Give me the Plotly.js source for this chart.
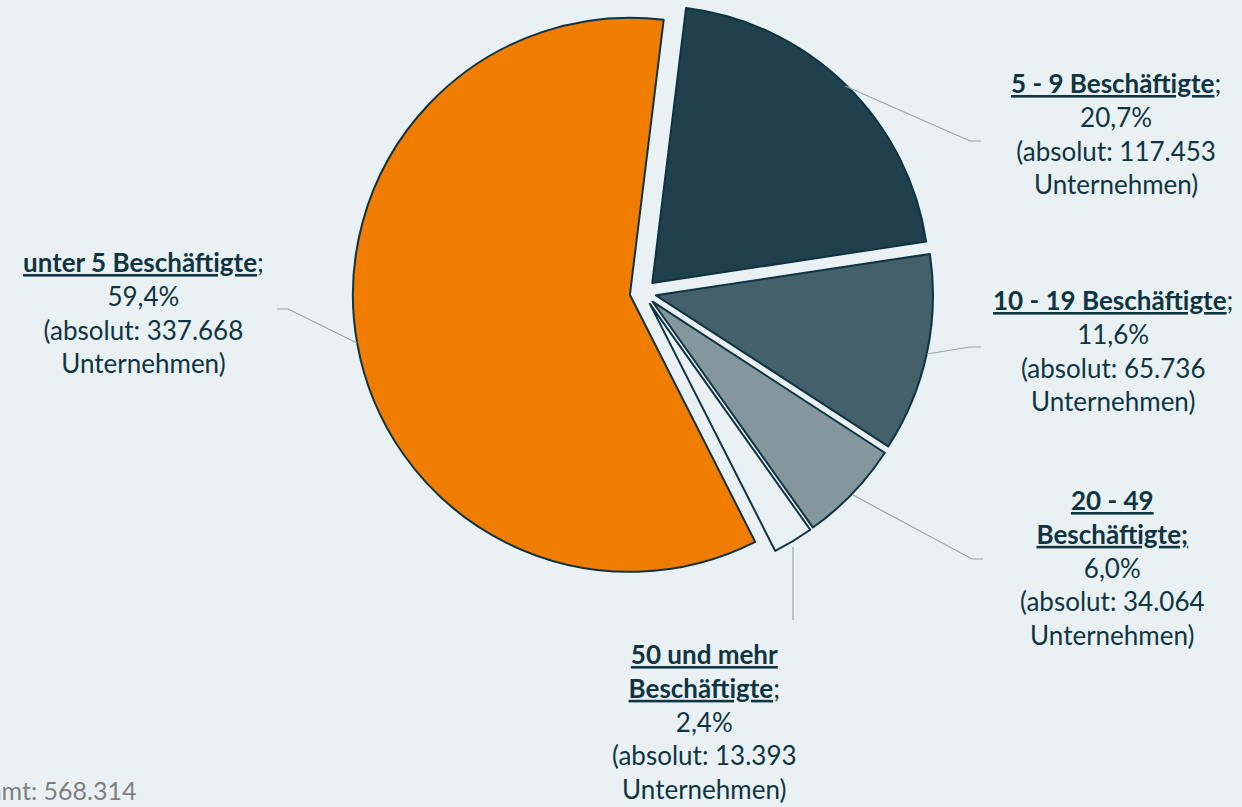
<!DOCTYPE html>
<html>
<head>
<meta charset="utf-8">
<script src="https://cdn.plot.ly/plotly-3.0.1.min.js"></script>
<style>
  html, body { margin: 0; padding: 0; background: #EAF1F5; overflow: hidden; }
  #chart { width: 1242px; height: 807px; }
</style>
</head>
<body>
<div id="chart"></div>
<script>
// ---- data ----
const categories = ["5 - 9 Beschäftigte", "10 - 19 Beschäftigte", "20 - 49 Beschäftigte", "50 und mehr Beschäftigte", "unter 5 Beschäftigte"];
const values = [117453, 65736, 34064, 13393, 337668];
const total = 568314;
const sliceColors = ["#1F404C", "#44616B", "#84979C", "#EAF1F5", "#F07D00"];
// title lines of each label (bold, underlined parts)
const labelHeads = [
  "<b><u>5 - 9 Beschäftigte</u></b>;",
  "<b><u>10 - 19 Beschäftigte</u></b>;",
  "<b><u>20 - 49</u></b><br><b><u>Beschäftigte;</u></b>",
  "<b><u>50 und mehr</u></b><br><b><u>Beschäftigte</u></b>;",
  "<b><u>unter 5 Beschäftigte</u></b>;"
];
const totalLabel = "Gesamt: ";

// ---- helpers ----
const W = 1242, H = 807;
const px = x => x / W;
const py = y => 1 - y / H;
function de(n) { return String(n).replace(/\B(?=(\d{3})+(?!\d))/g, "."); }
function pct(v) { return (v / total * 100).toFixed(1).replace(".", ",") + "%"; }

// label placement (pixel centers) and leader lines
const labelPos = [[1116, 134], [1113, 350], [1112, 567], [704, 721], [143, 313]];
const leaders = [
  [[845, 86], [970, 141], [981, 141]],
  [[927, 354], [970, 347], [981, 347]],
  [[853, 495], [972, 559], [983, 559]],
  [[793, 547], [793, 620]],
  [[357, 343], [288, 309], [277, 309]]
];

const textColor = "#0F3542";
const FONT = "Lato, 'Open Sans', sans-serif";

const annotations = categories.map((c, i) => ({
  xref: "paper", yref: "paper",
  x: px(labelPos[i][0]), y: py(labelPos[i][1]),
  xanchor: "center", yanchor: "middle",
  showarrow: false, align: "center",
  text: labelHeads[i] + "<br>" + pct(values[i]) + "<br>(absolut: " + de(values[i]) + "<br>Unternehmen)",
  font: { family: FONT, size: 26, color: textColor }
}));
annotations.push({
  xref: "paper", yref: "paper",
  x: px(138), y: py(790), xanchor: "right", yanchor: "middle",
  showarrow: false,
  text: totalLabel + de(total),
  font: { family: FONT, size: 25, color: "#7F7F7F" }
});

const shapes = leaders.map(pts => ({
  type: "path", xref: "paper", yref: "paper",
  path: pts.map((p, k) => (k ? "L" : "M") + px(p[0]) + "," + py(p[1])).join(" "),
  line: { color: "#9AA6AA", width: 1.2 }
}));

// pie geometry
const cx = 643, cy = 292.5, R = 277, pull = 0.048;
const half = R * (1 + pull);

const trace = {
  type: "pie",
  labels: categories,
  values: values,
  sort: false,
  direction: "clockwise",
  rotation: 7,
  pull: values.map(() => pull),
  textinfo: "none",
  hoverinfo: "label+percent+value",
  marker: { colors: sliceColors, line: { color: "#0E3441", width: 2 } },
  domain: { x: [px(cx - half), px(cx + half)], y: [py(cy + half), py(cy - half)] },
  showlegend: false
};

const layout = {
  width: W, height: H,
  margin: { l: 0, r: 0, t: 0, b: 0 },
  paper_bgcolor: "#EAF1F5",
  plot_bgcolor: "#EAF1F5",
  showlegend: false,
  annotations: annotations,
  shapes: shapes
};

Plotly.newPlot("chart", [trace], layout, { displayModeBar: false, staticPlot: true });
</script>
</body>
</html>
